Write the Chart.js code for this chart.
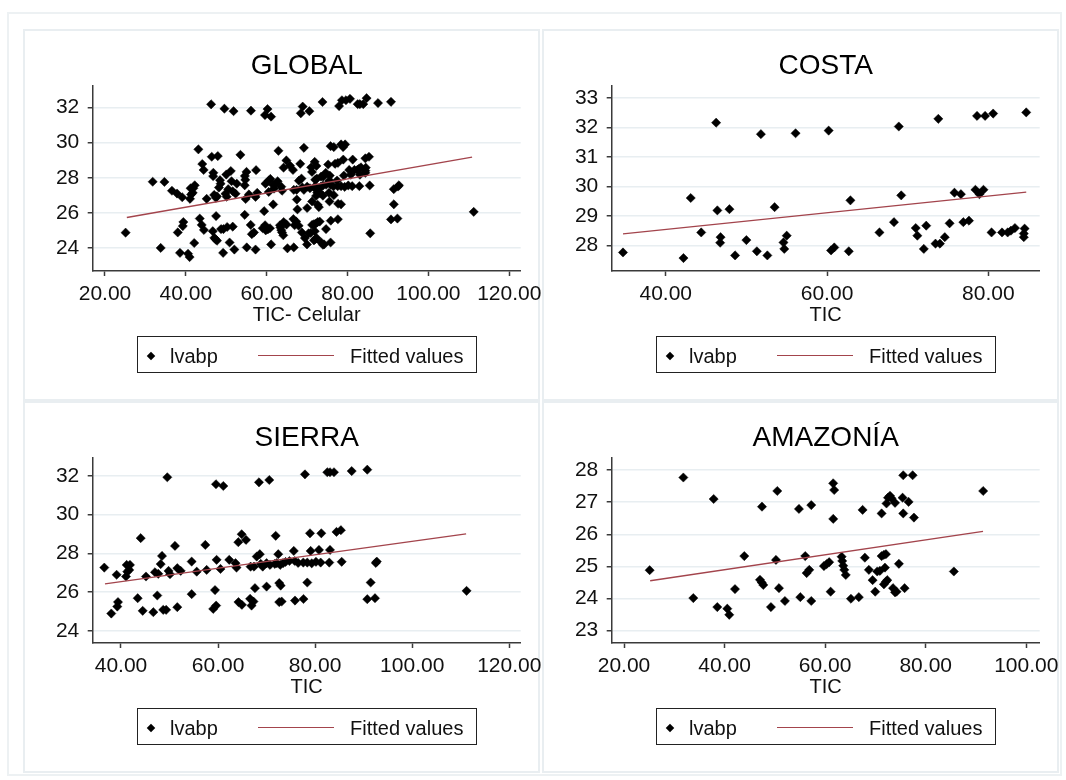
<!DOCTYPE html>
<html>
<head>
<meta charset="utf-8">
<script src="https://cdn.jsdelivr.net/npm/chart.js@4.4.1/dist/chart.umd.min.js"></script>
<style>
  html, body { margin: 0; padding: 0; background: #ffffff; }
  body { width: 1066px; height: 780px; position: relative; overflow: hidden;
         font-family: "Liberation Sans", Arial, sans-serif; }
  #frame { position: absolute; left: 7px; top: 12px; width: 1055px; height: 764px;
           border: 2px solid #edf1f3; box-sizing: border-box; }
  .pborder { position: absolute; width: 517px; height: 372px; border: 2px solid #e9eef1;
             box-sizing: border-box; }
  .panel { position: absolute; width: 517px; height: 372px; }
  .panel canvas { position: absolute; left: 0; top: 0; }
  .legend { position: absolute; left: 113.3px; top: 307px; width: 339.4px; height: 37.3px;
            border: 1.5px solid #222; box-sizing: border-box; }
  .lg-diamond { position: absolute; left: 123.7px; top: 323.7px; width: 6px; height: 6px;
                background: #000; transform: rotate(45deg); }
  .lg-text { position: absolute; top: 314.9px; height: 24px; line-height: 24px;
             font-size: 20px; color: #111; white-space: nowrap; }
  .lg-line { position: absolute; left: 234.3px; top: 326px; width: 76px; height: 1.4px;
             background: #a3444c; }
</style>
</head>
<body>
<div id="frame"></div>
<div class="pborder" style="left:23px;top:29px"></div>
<div class="pborder" style="left:542px;top:29px"></div>
<div class="pborder" style="left:23px;top:401px"></div>
<div class="pborder" style="left:542px;top:401px"></div>

<div class="panel" id="p1" style="left:24px;top:29px"><canvas id="c1" width="517" height="372"></canvas></div>
<div class="panel" id="p2" style="left:543px;top:29px"><canvas id="c2" width="517" height="372"></canvas></div>
<div class="panel" id="p3" style="left:24px;top:401px"><canvas id="c3" width="517" height="372"></canvas></div>
<div class="panel" id="p4" style="left:543px;top:401px"><canvas id="c4" width="517" height="372"></canvas></div>

<script>
// ---------------- DATA ----------------
// Costa: TIC (x) and lvabp (y)
const costaX = [34.7,42.2,43.1,44.4,46.25,46.4,46.8,46.75,47.9,48.6,50.0,51.3,51.8,52.6,53.5,54.6,54.7,55.0,56.1,
  60.2,60.5,60.9,62.7,62.9,66.5,68.3,68.9,69.2,71.0,71.2,72.3,72.0,73.45,74.0,74.6,73.8,75.2,75.8,76.6,76.9,77.6,
  78.6,79.6,80.6,78.4,78.9,79.4,80.4,81.7,82.4,82.8,83.3,84.7,84.5,84.4,84.4];
const costaY = [27.76,27.57,29.61,28.44,32.17,29.19,28.28,28.09,29.23,27.66,28.18,27.8,31.78,27.66,29.3,28.1,27.88,28.33,31.81,
  31.9,27.83,27.93,27.8,29.53,28.44,28.79,32.04,29.7,28.59,28.33,28.67,27.88,28.06,28.06,28.28,32.3,28.75,29.79,29.74,28.79,28.84,
  32.4,32.4,32.48,29.89,29.74,29.89,28.44,28.44,28.44,28.5,28.59,32.52,28.57,28.4,28.28];

// Sierra
const sierraX = [36.56,38.0,39.1,39.24,39.38,41.17,41.85,41.3,41.7,41.03,43.44,44.06,44.47,45.15,46.66,47.0,47.48,48.18,48.45,47.68,
  48.7,49.3,49.8,50.1,51.12,51.6,52.3,51.6,54.56,54.56,55.6,57.37,57.65,49.54,59.0,59.6,59.37,59.7,60.5,59.57,61.08,
  62.3,63.6,63.8,64.17,64.86,65.75,64.2,64.9,66.6,67.3,66.9,66.7,67.4,67.6,67.96,68.6,69.2,70.0,70.7,70.0,68.43,70.55,
  71.87,72.4,72.1,72.8,73.4,72.6,72.9,72.6,73.1,74.7,75.8,75.6,75.85,77.9,77.6,78.94,81.27,84.4,85.3,79.08,80.79,83.06,
  77.56,78.38,79.29,80.17,81.14,82.91,85.47,92.7,92.5,78.38,91.44,90.74,92.33,111.2,82.5,83.05,83.88,87.53,90.74,
  71.7,73.9,68.8,76.5];
const sierraY = [27.26,24.89,26.89,25.25,25.48,27.4,27.4,27.05,27.14,26.8,25.68,28.78,25.03,26.8,24.96,27.02,25.82,27.44,27.86,26.94,
  25.08,25.08,27.09,26.92,28.38,27.23,27.09,25.22,27.57,25.89,27.05,28.43,27.14,31.92,25.13,25.3,26.1,27.66,27.19,31.56,31.47,
  27.66,27.49,27.26,28.57,28.98,28.69,25.48,25.34,25.65,25.51,25.3,27.31,27.31,26.2,27.83,27.95,27.31,27.49,27.4,26.28,31.66,31.78,
  28.9,27.95,27.49,27.4,27.49,26.46,26.33,25.48,25.51,27.6,27.6,28.12,25.56,32.07,25.64,29.03,29.03,29.1,29.19,28.12,28.17,28.17,
  27.52,27.52,27.48,27.56,27.52,27.52,27.56,27.57,27.5,26.49,26.49,25.63,25.68,26.06,32.18,32.18,32.18,32.24,32.31,
  27.45,27.55,27.45,27.5];

// Amazonía
const amazX = [25.1,31.8,33.78,37.83,38.55,40.54,40.93,42.07,43.92,47.04,47.38,47.7,47.44,49.22,50.22,50.48,50.82,52.0,
  54.79,55.06,56.04,56.32,56.84,57.24,57.24,61.09,59.76,60.3,60.8,61.6,61.8,61.61,63.28,63.4,63.6,63.8,64.1,65.13,66.7,
  67.45,67.9,68.7,69.44,69.96,70.36,70.9,71.23,71.23,71.69,72.09,71.89,71.69,72.09,72.35,72.2,72.5,72.9,73.2,73.9,
  73.5,74.2,73.9,74.67,75.4,75.53,75.53,75.8,76.6,77.4,77.66,85.6,91.43];
const amazY = [24.88,27.77,24.01,27.1,23.73,23.68,23.49,24.29,25.32,24.58,24.5,24.42,26.86,23.73,25.2,27.35,24.32,23.92,
  26.79,24.04,25.32,24.79,24.89,26.91,23.92,24.21,25.01,25.07,25.13,27.59,27.38,26.48,25.3,25.17,25.02,24.89,24.73,23.99,24.04,
  26.76,25.27,24.89,24.57,24.21,24.84,24.86,26.65,25.32,25.36,25.38,24.96,24.44,24.52,24.57,26.96,27.14,27.2,27.12,26.98,
  24.32,24.21,24.19,25.08,27.14,27.84,26.65,24.32,27.01,27.84,26.52,24.84,27.35];

// Global = all three regions together (x is TIC- Celular)
const globalX = costaX.concat(sierraX, amazX);
const globalY = costaY.concat(sierraY, amazY);

// Fitted values (line end points)
const fitGlobalX = [25.4, 110.8],  fitGlobalY = [25.74, 29.17];
const fitCostaX  = [34.7, 84.7],   fitCostaY  = [28.39, 29.81];
const fitSierraX = [36.7, 111.1],  fitSierraY = [26.42, 29.0];
const fitAmazX   = [25.2, 91.4],   fitAmazY   = [24.55, 26.09];

// Tick labels
const globalXTicks = [20, 40, 60, 80, 100, 120], globalYTicks = [24, 26, 28, 30, 32];
const costaXTicks  = [40, 60, 80],               costaYTicks  = [28, 29, 30, 31, 32, 33];
const sierraXTicks = [40, 60, 80, 100, 120],     sierraYTicks = [24, 26, 28, 30, 32];
const amazXTicks   = [20, 40, 60, 80, 100],      amazYTicks   = [23, 24, 25, 26, 27, 28];

const titles = ["GLOBAL", "COSTA", "SIERRA", "AMAZONÍA"];
const xTitles = ["TIC- Celular", "TIC", "TIC", "TIC"];
const legendLabels = ["lvabp", "Fitted values"];

// --------------- DRAWING ---------------
const FONT = '"Liberation Sans", Arial, sans-serif';
Chart.defaults.font.family = FONT;

function toPts(xs, ys) { return xs.map((x, i) => ({ x: x, y: ys[i] })); }

function addLegend(panelId) {
  const p = document.getElementById(panelId);
  const box = document.createElement('div'); box.className = 'legend'; p.appendChild(box);
  const d = document.createElement('div'); d.className = 'lg-diamond'; p.appendChild(d);
  const t1 = document.createElement('div'); t1.className = 'lg-text'; t1.style.left = '146px';
  t1.textContent = legendLabels[0]; p.appendChild(t1);
  const ln = document.createElement('div'); ln.className = 'lg-line'; p.appendChild(ln);
  const t2 = document.createElement('div'); t2.className = 'lg-text'; t2.style.left = '326px';
  t2.textContent = legendLabels[1]; p.appendChild(t2);
}

function makePanel(canvasId, panelId, title, xTitle, xs, ys, fx, fy, xr, yr, xt, yt) {
  new Chart(document.getElementById(canvasId), {
    type: 'scatter',
    data: {
      datasets: [
        { label: legendLabels[1], type: 'line', data: toPts(fx, fy), borderColor: '#a3444c',
          borderWidth: 1.4, pointRadius: 0, showLine: true, fill: false, order: 0 },
        { label: legendLabels[0], data: toPts(xs, ys), pointStyle: 'rectRot', pointRadius: 4.6,
          backgroundColor: '#000', borderColor: '#000', borderWidth: 0.5, order: 1 }
      ]
    },
    options: {
      responsive: false, animation: false, devicePixelRatio: 1,
      layout: { padding: { left: 0, right: 20.3, top: 0, bottom: 70 } },
      plugins: {
        legend: { display: false }, tooltip: { enabled: false },
        title: { display: true, text: title, color: '#000', fullSize: false,
                 font: { size: 28, weight: 'normal', family: FONT },
                 padding: { top: 20.5, bottom: 2.2 } }
      },
      scales: {
        x: {
          type: 'linear', min: xr[0], max: xr[1],
          afterBuildTicks: s => { s.ticks = xt.map(v => ({ value: v })); },
          afterFit: s => { s.height = 60; s.paddingLeft = 0; s.paddingRight = 0; },
          ticks: { callback: v => Number(v).toFixed(2), color: '#111', font: { size: 21 },
                   padding: 6, maxRotation: 0, autoSkip: false },
          grid: { drawOnChartArea: false, drawTicks: true, tickLength: 5, tickColor: '#3a3a3a', tickWidth: 1.5 },
          border: { display: true, color: '#3a3a3a', width: 1.5 },
          title: { display: true, text: xTitle, color: '#111', font: { size: 20 },
                   padding: { top: 0, bottom: 4 } }
        },
        y: {
          type: 'linear', min: yr[0], max: yr[1],
          afterBuildTicks: s => { s.ticks = yt.map(v => ({ value: v })); },
          afterFit: s => { s.width = 68.7; s.paddingTop = 0; s.paddingBottom = 0; },
          ticks: { callback: v => String(v), color: '#111', font: { size: 21 }, padding: 8.4, autoSkip: false },
          grid: { color: '#e8eef1', lineWidth: 1.5, drawTicks: true, tickLength: 5,
                  tickColor: '#3a3a3a', tickWidth: 1.5 },
          border: { display: true, color: '#3a3a3a', width: 1.5 }
        }
      }
    }
  });
  addLegend(panelId);
}

makePanel('c1', 'p1', titles[0], xTitles[0], globalX, globalY, fitGlobalX, fitGlobalY,
          [16.96, 122.82], [22.70, 33.25], globalXTicks, globalYTicks);
makePanel('c2', 'p2', titles[1], xTitles[1], costaX, costaY, fitCostaX, fitCostaY,
          [33.30, 86.37], [27.13, 33.44], costaXTicks, costaYTicks);
makePanel('c3', 'p3', titles[2], xTitles[2], sierraX, sierraY, fitSierraX, fitSierraY,
          [34.17, 122.35], [23.37, 32.95], sierraXTicks, sierraYTicks);
makePanel('c4', 'p4', titles[3], xTitles[3], amazX, amazY, fitAmazX, fitAmazY,
          [17.55, 102.67], [22.61, 28.40], amazXTicks, amazYTicks);
</script>
</body>
</html>
